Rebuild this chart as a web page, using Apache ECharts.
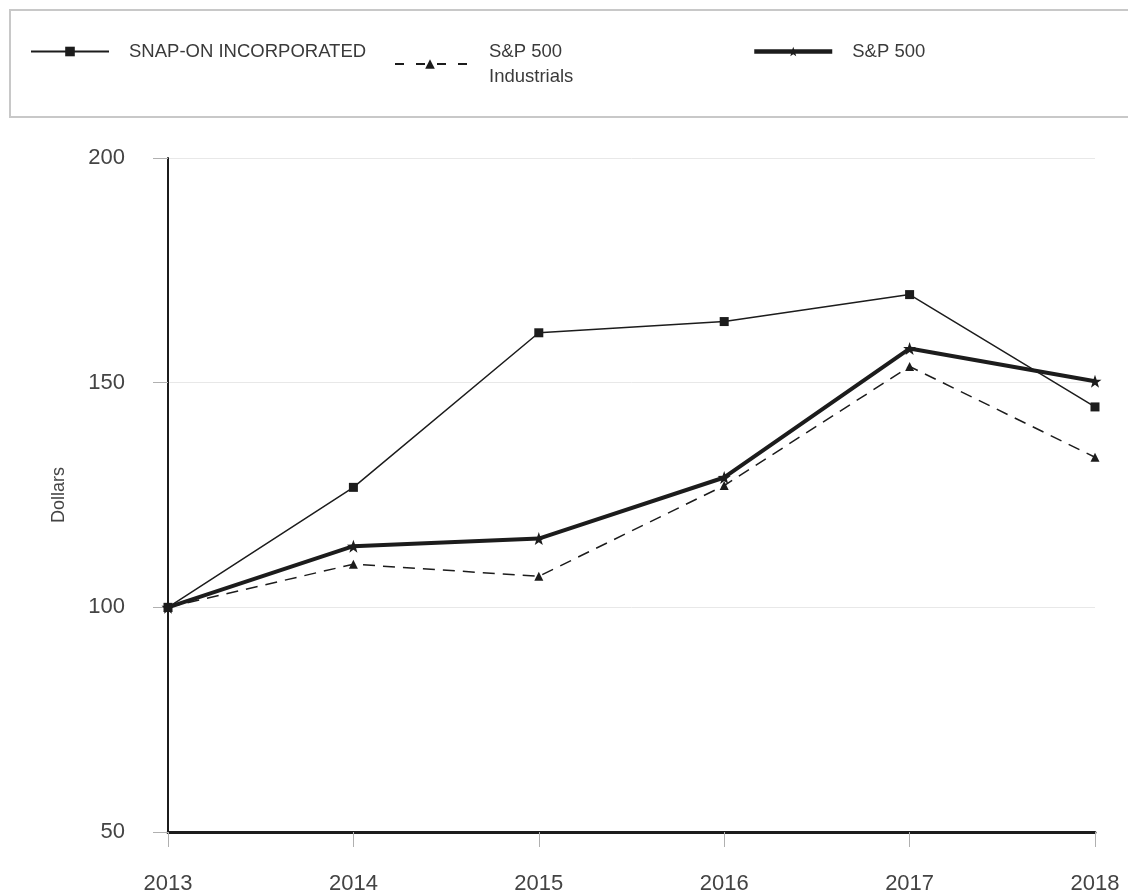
<!DOCTYPE html>
<html>
<head>
<meta charset="utf-8">
<script src="https://cdn.jsdelivr.net/npm/echarts@6/dist/echarts.min.js"></script>
<style>
  html, body { margin: 0; padding: 0; background: #fff; }
  #chart { width: 1128px; height: 895px; }
</style>
</head>
<body>
<div id="chart"></div>
<script>
var years = ['2013', '2014', '2015', '2016', '2017', '2018'];
var snapOn = [100, 126.7, 161.1, 163.6, 169.6, 144.6];
var spIndustrials = [100, 109.6, 106.9, 127.1, 153.6, 133.4];
var sp500 = [100, 113.6, 115.3, 128.9, 157.6, 150.3];
var yTicks = [50, 100, 150, 200];

var ink = '#1c1c1c';
var font = 'Liberation Sans';
var starPath = 'path://M0,-10 L2.4,-3.2 L9.5,-3.1 L3.8,1.2 L5.9,8.1 L0,4 L-5.9,8.1 L-3.8,1.2 L-9.5,-3.1 L-2.4,-3.2 Z';

var chart = echarts.init(document.getElementById('chart'));

// one legend per entry so each can sit where the original puts it
function legendAt(left, item) {
    return {
        left: left,
        top: 34,
        itemWidth: 78,
        itemHeight: 12,
        data: [item],
        selectedMode: false,
        textStyle: {fontFamily: font, fontSize: 18.5, color: '#3a3a3a', lineHeight: 25, padding: [0, 0, 0, 15]}
    };
}

var option = {
    backgroundColor: '#fff',
    animation: false,
    graphic: [{
        type: 'rect',
        shape: {x: 10, y: 10, width: 1130, height: 107},
        style: {fill: '#fff', stroke: '#c8c8c8', lineWidth: 2},
        z: -1
    }],
    legend: [
        legendAt(25, {name: 'SNAP-ON INCORPORATED', lineStyle: {width: 2}}),
        legendAt(385, {name: 'S&P 500\nIndustrials', lineStyle: {width: 2, type: [9, 12], dashOffset: -4}}),
        legendAt(747, {name: 'S&P 500', lineStyle: {width: 4.5}})
    ],
    grid: {left: 168, right: 33, top: 158, bottom: 62},
    xAxis: {
        type: 'category',
        data: years,
        boundaryGap: false,
        axisLine: {lineStyle: {color: ink, width: 3}},
        axisTick: {show: true, length: 15, lineStyle: {color: '#b0b0b0', width: 1}},
        axisLabel: {fontFamily: font, fontSize: 22, color: '#444', margin: 41}
    },
    yAxis: {
        type: 'value',
        min: yTicks[0],
        max: yTicks[yTicks.length - 1],
        interval: 50,
        name: 'Dollars',
        nameLocation: 'middle',
        nameGap: 100,
        nameTextStyle: {fontFamily: font, fontSize: 18, color: '#444'},
        axisLine: {show: true, lineStyle: {color: ink, width: 2}},
        axisTick: {show: true, length: 15, lineStyle: {color: '#b0b0b0', width: 1}},
        axisLabel: {fontFamily: font, fontSize: 22, color: '#444', margin: 43},
        splitLine: {lineStyle: {color: '#e8e8e8', width: 1}}
    },
    series: [
        {
            name: 'SNAP-ON INCORPORATED',
            type: 'line',
            data: snapOn,
            symbol: 'rect',
            symbolSize: 9,
            lineStyle: {color: ink, width: 1.5},
            itemStyle: {color: ink},
            z: 3
        },
        {
            name: 'S&P 500\nIndustrials',
            type: 'line',
            data: spIndustrials,
            symbol: 'triangle',
            symbolSize: 9,
            lineStyle: {color: ink, width: 1.5, type: [12, 8]},
            itemStyle: {color: ink},
            z: 2
        },
        {
            name: 'S&P 500',
            type: 'line',
            data: sp500,
            symbol: starPath,
            symbolSize: 13,
            lineStyle: {color: ink, width: 4},
            itemStyle: {color: ink},
            z: 4
        }
    ]
};

chart.setOption(option);
</script>
</body>
</html>
